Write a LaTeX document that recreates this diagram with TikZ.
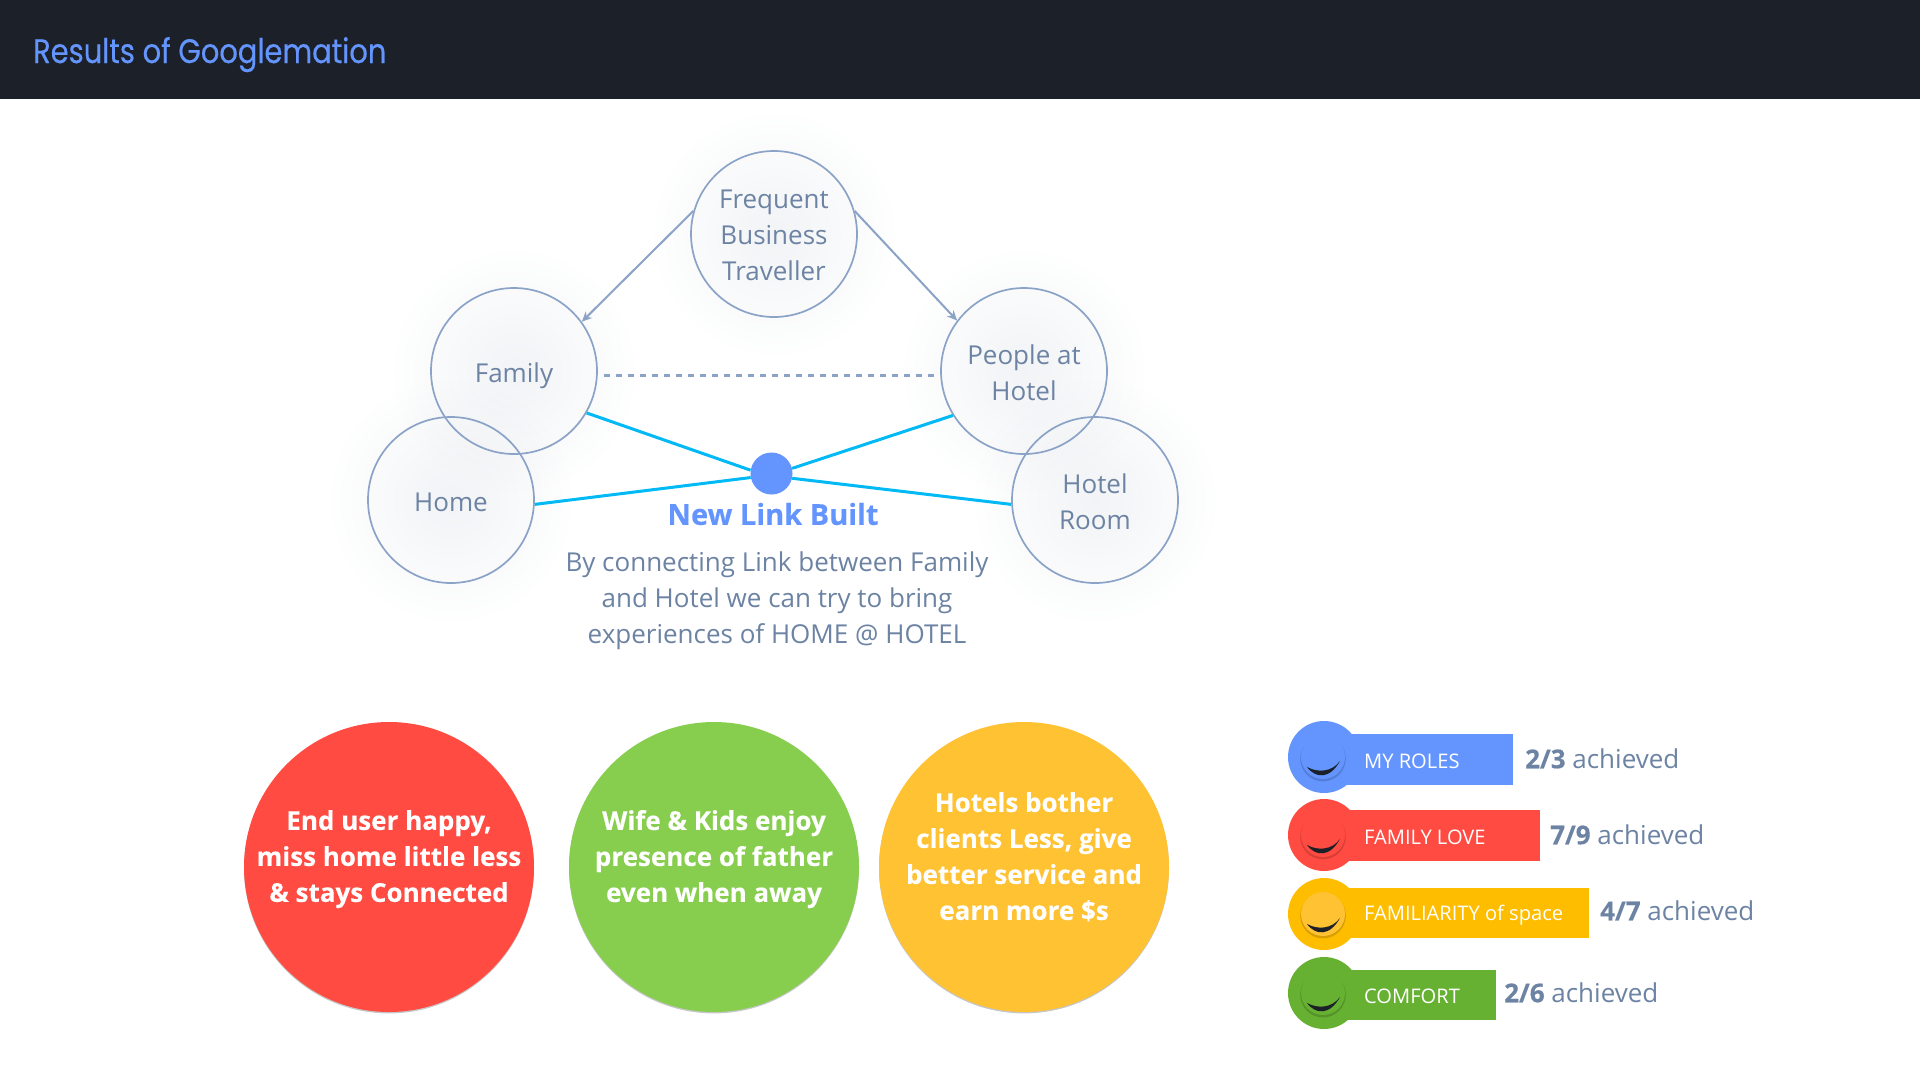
\documentclass[tikz,border=0pt]{standalone}
\usepackage{fontspec}
\setmainfont{Open Sans}[BoldFeatures={FakeBold=0.25}]
\newfontfamily\titlefont[FakeBold=0.4]{Poppins}
\usetikzlibrary{arrows.meta,fadings}
\definecolor{hdr}{HTML}{1C2129}
\definecolor{blue1}{HTML}{6495FF}
\definecolor{red1}{HTML}{FF4B42}
\definecolor{amber1}{HTML}{FFBD00}
\definecolor{amber2}{HTML}{FFC233}
\definecolor{green1}{HTML}{66B032}
\definecolor{green2}{HTML}{87CE4E}
\definecolor{ink}{HTML}{6C83A3}
\definecolor{edge}{HTML}{8AA3C6}
\definecolor{cyan1}{HTML}{00B9F5}
\definecolor{haze}{HTML}{7F8CA8}
\tikzfading[name=halo,inner color=transparent!90,outer color=transparent!100]
\tikzset{x=1pt,y=-1pt,
 ring/.style={circle,draw=edge,line width=1.7pt,minimum size=166pt,inner sep=0pt,align=center,text=ink,font=\fontsize{26}{36}\selectfont},
 big/.style={circle,minimum size=290pt,inner sep=0pt,align=center,text=white,font=\fontsize{26}{36}\selectfont\bfseries},
 tag/.style={anchor=west,inner sep=0pt,text=white,font=\fontsize{20.1}{26}\selectfont},
 score/.style={anchor=west,inner sep=0pt,text=ink,font=\fontsize{26}{32}\selectfont},
 caption/.style={align=center,text=ink,font=\fontsize{26}{36}\selectfont},
 arr/.style={edge,line width=2pt,-{Stealth[length=10pt,width=9pt]}},
 lnk/.style={cyan1,line width=3pt}
}
\newcommand{\glow}[2]{\fill[haze,path fading=halo] (#1,#2) circle[radius=122];}
\newcommand{\bigshadow}[2]{\fill[black,opacity=.22] (#1,#2+1.4) circle[radius=145];}
\newcommand{\badge}[6]{% y, colour, inner colour, bar end, bar top, bar bottom
 \fill[#2] (1324,#1) circle[radius=36];
 \fill[#2] (1345,#5) rectangle (#4,#6);
 \fill[black,opacity=.16] (1323,#1+1.6) circle[radius=22.8];
 \fill[#3] (1323,#1) circle[radius=22];
 \fill[hdr] (1307,#1+10) .. controls (1316,#1+22) and (1330,#1+22) .. (1340,#1+4) .. controls (1332,#1+15) and (1318,#1+16) .. (1307,#1+10) -- cycle;
}
\begin{document}
\begin{tikzpicture}
\useasboundingbox (0,0) rectangle (1920,1080);
\fill[white] (0,0) rectangle (1920,1080);
\fill[hdr] (0,0) rectangle (1920,99);
\node[anchor=base west,inner sep=0pt,text=blue1,font=\titlefont\fontsize{34}{40}\selectfont,xscale=.85] (title) at (33,63) {Results of Googlemation};
\glow{774}{234}\glow{514}{371}\glow{1024}{371}\glow{451}{500}\glow{1095}{500}
\node[ring] (fbt) at (774,234) {\rule{0pt}{22pt}Frequent\\Business\\Traveller};
\node[ring] (family) at (514,371) {\rule{0pt}{29pt}Family};
\node[ring] (people) at (1024,371) {\rule{0pt}{23pt}People at\\Hotel};
\node[ring] (home) at (451,500) {\rule{0pt}{23pt}Home};
\node[ring] (room) at (1095,500) {\rule{0pt}{23pt}Hotel\\Room};
\node[circle,fill=blue1,minimum size=42pt,inner sep=0pt] (dot) at (771.5,473.5) {};
\draw[lnk] (family.-30) -- (dot.171);
\draw[lnk] (people.212) -- (dot.14);
\draw[lnk] (home.-3) -- (dot.191);
\draw[lnk] (room.183) -- (dot.-13);
\draw[arr] (fbt.164) -- (family.36);
\draw[arr] (fbt.16) -- (people.143);
\coordinate (da) at (604,375);\coordinate (db) at (935,375);
\draw[edge,line width=3pt,dash pattern=on 6pt off 6pt] (da) -- (db);
\node[inner sep=0pt,text=blue1,font=\fontsize{29}{36}\selectfont\bfseries] (nl) at (773,514) {New Link Built};
\node[caption] (cap) at (777,601) {By connecting Link between Family\\and Hotel we can try to bring\\experiences of HOME @ HOTEL};
\bigshadow{389}{867}\bigshadow{714}{867}\bigshadow{1024}{867}
\node[big,fill=red1] (b1) at (389,867) {End user happy,\\miss home little less\\\& stays Connected\rule[-22pt]{0pt}{22pt}};
\node[big,fill=green2] (b2) at (714,867) {Wife \& Kids enjoy\\presence of father\\even when away\rule[-22pt]{0pt}{22pt}};
\node[big,fill=amber2] (b3) at (1024,867) {Hotels bother\\clients Less, give\\better service and\\earn more \$s\rule[-22pt]{0pt}{22pt}};
\badge{757}{blue1}{blue1}{1513}{734}{785}
\badge{835}{red1}{red1}{1540}{810}{861}
\badge{914}{amber1}{amber2}{1589}{888}{938}
\badge{993}{green1}{green1}{1496}{970}{1020}
\node[tag] (t1) at (1364,761) {MY ROLES};
\node[tag] (t2) at (1364,837) {FAMILY LOVE};
\node[tag] (t3) at (1364,915) {FAMILIARITY of space};
\node[tag] (t4) at (1364,996) {COMFORT};
\node[score] (s1) at (1525,758.5) {\textbf{2/3} achieved};
\node[score] (s2) at (1550,834.5) {\textbf{7/9} achieved};
\node[score] (s3) at (1600,910.5) {\textbf{4/7} achieved};
\node[score] (s4) at (1504,992.5) {\textbf{2/6} achieved};
\end{tikzpicture}
\end{document}
